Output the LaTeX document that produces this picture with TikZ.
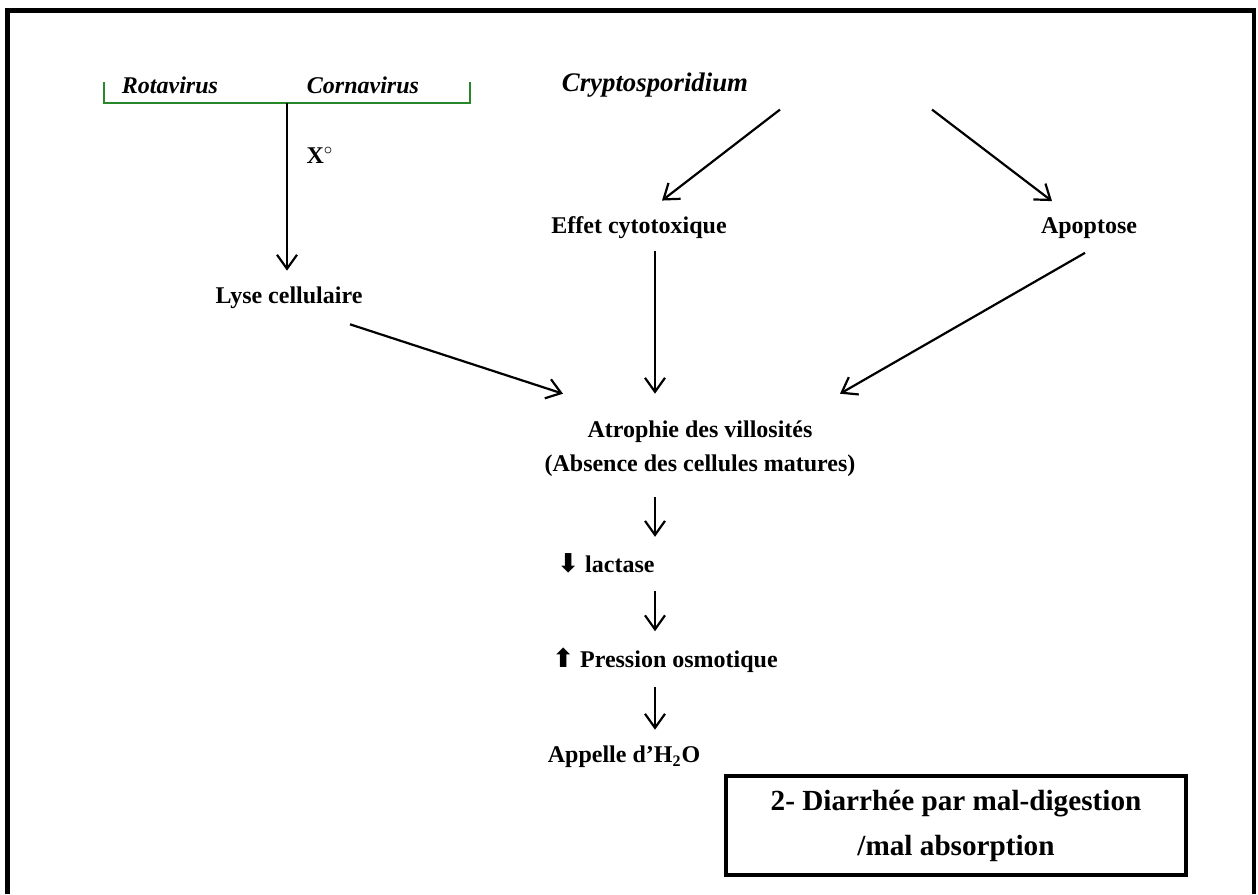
\documentclass[tikz,border=0pt]{standalone}
\usepackage{fontspec}
\setmainfont{Liberation Serif}
\newfontfamily\symfont{DejaVu Sans}
\usetikzlibrary{arrows.meta,calc}
\definecolor{BrkGreen}{RGB}{40,135,40}

\tikzset{
  lbl/.style={font=\fontsize{12}{17}\selectfont\bfseries, inner sep=1pt},
  lblit/.style={lbl, font=\fontsize{12}{17}\selectfont\bfseries\itshape},
  arr/.style={-{Straight Barb[length=7pt,width=10pt,line width=1.1pt]}, line width=1.1pt},
  titlebox/.style={draw, line width=2pt, minimum width=230pt, minimum height=49.5pt,
    align=center, font=\fontsize{14.6}{22.5}\selectfont\bfseries},
}
\newcommand{\grosfl}[1]{{\symfont\fontsize{13}{13}\selectfont #1}}

\begin{document}
\begin{tikzpicture}[x=0.5pt,y=-0.5pt]
  \path[use as bounding box] (0,0) rectangle (1258,894);
  \fill[white] (0,0) rectangle (1258,894);
  \draw[line width=2.4pt] (7.5,894) -- (7.5,10.5) -- (1254,10.5) -- (1254,894);

  % virus
  \draw[BrkGreen, line width=1.2pt] (104,82) -- (104,103) -- (470,103) -- (470,82);
  \node[lblit] (rota) at (170,85) {Rotavirus};
  \node[lblit] (corna) at (363,85) {Cornavirus};
  \coordinate (brk) at (287,103);
  \node[lbl] (xo) at (320,155) {X$^{\circ}$};
  \node[lbl] (lyse) at (289,298) {Lyse cellulaire};

  % parasite
  \node[lblit, font=\fontsize{13.4}{17}\selectfont\bfseries\itshape] (crypto) at (655,85) {Cryptosporidium};
  \node[lbl] (cyto) at (639,228) {Effet cytotoxique};
  \node[lbl] (apop) at (1089,228) {Apoptose};

  % chain
  \coordinate (col) at (655,0);
  \node[lbl, align=center] (atro) at (700,449) {Atrophie des villosités\\(Absence des cellules matures)};
  \node[lbl] (lact) at (606,563) {\grosfl{⬇} lactase};
  \node[lbl] (press) at (665,660) {\grosfl{⬆} Pression osmotique};
  \node[lbl] (eau) at (624,757) {Appelle d’H\textsubscript{2}O};

  \node[titlebox] (titre) at (956,825.5) {2- Diarrhée par mal-digestion\\/mal absorption};

  \draw[arr] (brk) -- ($(brk |- lyse.north)+(0,-14)$);
  \draw[arr] ($(crypto.south)+(125,10)$) -- ($(cyto.north)+(23,-14)$);
  \draw[arr] ($(crypto.south)+(277,10)$) -- ($(apop.north)+(-37,-14)$);
  \draw[arr] ($(cyto.south -| col)+(0,10)$) -- ($(atro.north -| col)+(0,-25)$);
  \draw[arr] ($(lyse.south)+(61,13)$) -- ($(atro.north)+(-137,-25)$);
  \draw[arr] ($(apop.south)+(-4,12)$) -- ($(atro.north)+(140,-25)$);
  \draw[arr] ($(atro.south -| col)+(0,18)$) -- ($(lact.north -| col)+(0,-14)$);
  \draw[arr] ($(lact.south -| col)+(0,16)$) -- ($(press.north -| col)+(0,-14)$);
  \draw[arr] ($(press.south -| col)+(0,12)$) -- ($(eau.north -| col)+(0,-14)$);
\end{tikzpicture}
\end{document}
